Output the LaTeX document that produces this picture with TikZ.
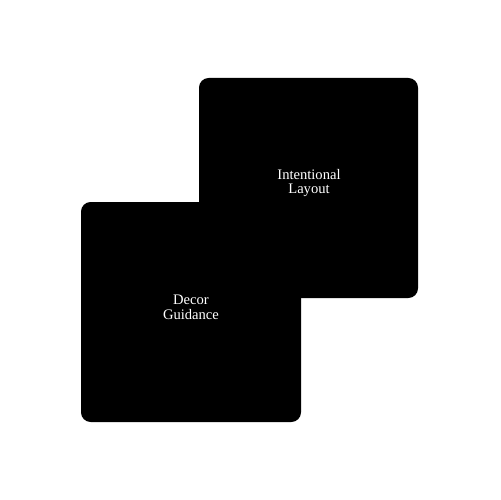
\documentclass[tikz,border=0pt]{standalone}
\usepackage{fontspec}
\setmainfont{Liberation Serif}
\tikzset{
  tile/.style={fill=black, rounded corners=5.5pt},
  tilelabel/.style={text=white, align=center, font=\fontsize{8.3}{8.4}\selectfont}
}
\begin{document}
\begin{tikzpicture}[x=0.02cm, y=-0.02cm]
  % ==== CANVAS ====
  \useasboundingbox[fill=white] (0,0) rectangle (500,500);

  % ==== BACK TILE ====
  \fill[tile] (199,78) rectangle (418,298);
  \node[tilelabel] (layout) at (309,183) {Intentional\\Layout};

  % ==== FRONT TILE ====
  \fill[tile] (81,202) rectangle (301,422);
  \node[tilelabel] (decor) at (191,307) {Decor\\Guidance};
\end{tikzpicture}
\end{document}
